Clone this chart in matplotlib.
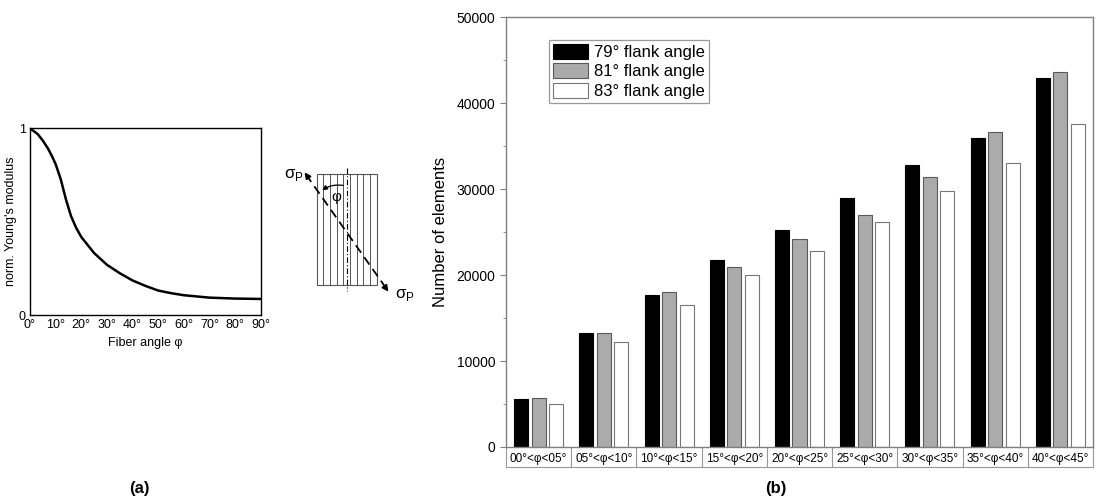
import numpy as np
import matplotlib
matplotlib.use("Agg")
import matplotlib.pyplot as plt
from matplotlib.ticker import MultipleLocator
from matplotlib.transforms import blended_transform_factory

plt.rcParams["font.family"] = ["Liberation Sans", "DejaVu Sans"]
plt.rcParams["mathtext.fontset"] = "custom"
plt.rcParams["mathtext.rm"] = "Liberation Sans"

# ── data: panel (a) normalised Young's modulus vs fibre angle ─────────────
fiber_angle = [0, 3, 5, 7, 8.5, 10, 12, 14, 16, 18, 20, 25, 30, 35, 40, 45, 50, 55, 60, 70, 80, 90]
young_norm = [1.0, 0.969, 0.934, 0.892, 0.853, 0.808, 0.727, 0.62, 0.53, 0.467, 0.418, 0.332,
              0.269, 0.224, 0.185, 0.156, 0.131, 0.117, 0.106, 0.093, 0.088, 0.086]

# ── data: panel (b) element counts per angle class ────────────────────────
classes = ["00°<φ<05°", "05°<φ<10°", "10°<φ<15°", "15°<φ<20°", "20°<φ<25°",
           "25°<φ<30°", "30°<φ<35°", "35°<φ<40°", "40°<φ<45°"]
flank_79 = [5550, 13300, 17700, 21800, 25200, 29000, 32800, 35950, 42950]
flank_81 = [5750, 13300, 18000, 21000, 24150, 26950, 31450, 36700, 43650]
flank_83 = [5050, 12250, 16500, 20000, 22800, 26200, 29750, 33050, 37550]
series_labels = ["79° flank angle", "81° flank angle", "83° flank angle"]

W, H = 1098, 504
fig = plt.figure(figsize=(W / 100, H / 100), dpi=100)

# ── sketch of fibre orientation (pixel coordinates) ───────────────────────
sk = fig.add_axes([0, 0, 1, 1])
sk.set_xlim(0, W); sk.set_ylim(H, 0); sk.axis("off")
x0, x1, y0, y1 = 316.7, 376.7, 174.3, 285
sk.add_patch(plt.Rectangle((x0, y0), x1 - x0, y1 - y0, fill=False, ec="#555555", lw=0.8))
for xv in np.linspace(x0, x1, 10)[1:-1]:
    sk.plot([xv, xv], [y0, y1], color="#555555", lw=0.7)
sk.plot([347.3, 347.3], [168, 291], color="black", lw=0.8, ls=(0, (5, 2, 1, 2)))
sk.plot([306, 387], [174.5, 289.5], color="black", lw=1.3, ls=(0, (5, 3)))
sk.annotate("", xy=(303, 170), xytext=(309, 178.5),
            arrowprops=dict(arrowstyle="-|>", color="black", lw=1.2, mutation_scale=9))
sk.annotate("", xy=(390, 294), xytext=(384, 285.5),
            arrowprops=dict(arrowstyle="-|>", color="black", lw=1.2, mutation_scale=9))
sk.annotate("", xy=(320, 192), xytext=(346, 186),
            arrowprops=dict(arrowstyle="-|>", color="black", lw=0.9, mutation_scale=7,
                            connectionstyle="arc3,rad=0.25"))
sk.text(336, 197, "φ", fontsize=11, ha="center", va="center")
sk.text(294, 175, r"$\mathrm{σ}_\mathrm{P}$", fontsize=12, ha="center", va="center")
sk.text(405, 295, r"$\mathrm{σ}_\mathrm{P}$", fontsize=12, ha="center", va="center")

# ── panel (a) ─────────────────────────────────────────────────────────────
axa = fig.add_axes([30 / W, 1 - 315 / H, 230.7 / W, 186.7 / H])
axa.plot(fiber_angle, young_norm, color="black", lw=1.8, solid_joinstyle="round")
axa.set_xlim(0, 90); axa.set_ylim(0, 1)
axa.set_xticks(range(0, 91, 10))
axa.set_xticklabels([f"{a}°" for a in range(0, 91, 10)])
axa.set_yticks([0, 1]); axa.set_yticklabels(["0", "1"])
axa.tick_params(direction="in", length=0, labelsize=9, pad=3)
axa.set_xlabel("Fiber angle φ", fontsize=9, labelpad=4)
axa.set_ylabel("norm. Young's modulus", fontsize=9, labelpad=1)
for s in axa.spines.values():
    s.set_linewidth(1.0)

# ── panel (b) ─────────────────────────────────────────────────────────────
axb = fig.add_axes([506 / W, 1 - 447 / H, 587 / W, 429.7 / H])
x = np.arange(len(classes))
off, bw = 0.268, 0.215
axb.bar(x - off, flank_79, bw, color="black", edgecolor="black", lw=0.8, label=series_labels[0])
axb.bar(x, flank_81, bw, color="#ababab", edgecolor="#5a5a5a", lw=0.8, label=series_labels[1])
axb.bar(x + off, flank_83, bw, color="white", edgecolor="#777777", lw=0.8, label=series_labels[2])
axb.set_xlim(-0.5, len(classes) - 0.5)
axb.set_ylim(0, 50000)
axb.yaxis.set_major_locator(MultipleLocator(10000))
axb.yaxis.set_minor_locator(MultipleLocator(5000))
axb.set_xticks(x)
axb.set_xticklabels(classes, fontsize=8.5)
axb.tick_params(axis="x", length=0, pad=4)
axb.tick_params(axis="y", which="major", direction="out", length=4, color="#808080", labelsize=10)
axb.tick_params(axis="y", which="minor", direction="out", length=2, color="#808080")
axb.set_ylabel("Number of elements", fontsize=12, labelpad=6)
for s in axb.spines.values():
    s.set_color("#808080"); s.set_linewidth(1.0)

# boxed category cells under the axis
tr = blended_transform_factory(axb.transData, axb.transAxes)
cell_h = -20 / 429.7
for b in np.arange(len(classes) + 1) - 0.5:
    axb.plot([b, b], [0, cell_h], color="#999999", lw=0.8, transform=tr, clip_on=False)
axb.plot([-0.5, len(classes) - 0.5], [cell_h, cell_h], color="#999999", lw=0.8,
         transform=tr, clip_on=False)

leg = axb.legend(loc="upper left", bbox_to_anchor=(0.073, 0.948), fontsize=12,
                 fancybox=False, frameon=True, handlelength=2.1, handleheight=1.0,
                 labelspacing=0.2, handletextpad=0.35, borderpad=0.25, borderaxespad=0)
leg.get_frame().set_edgecolor("#808080")
leg.get_frame().set_linewidth(0.9)

# panel labels
fig.text(139 / W, 1 - 489 / H, "(a)", fontsize=12, fontweight="bold", ha="center", va="center")
fig.text(776 / W, 1 - 489 / H, "(b)", fontsize=12, fontweight="bold", ha="center", va="center")

fig.savefig("out.png", dpi=100)
